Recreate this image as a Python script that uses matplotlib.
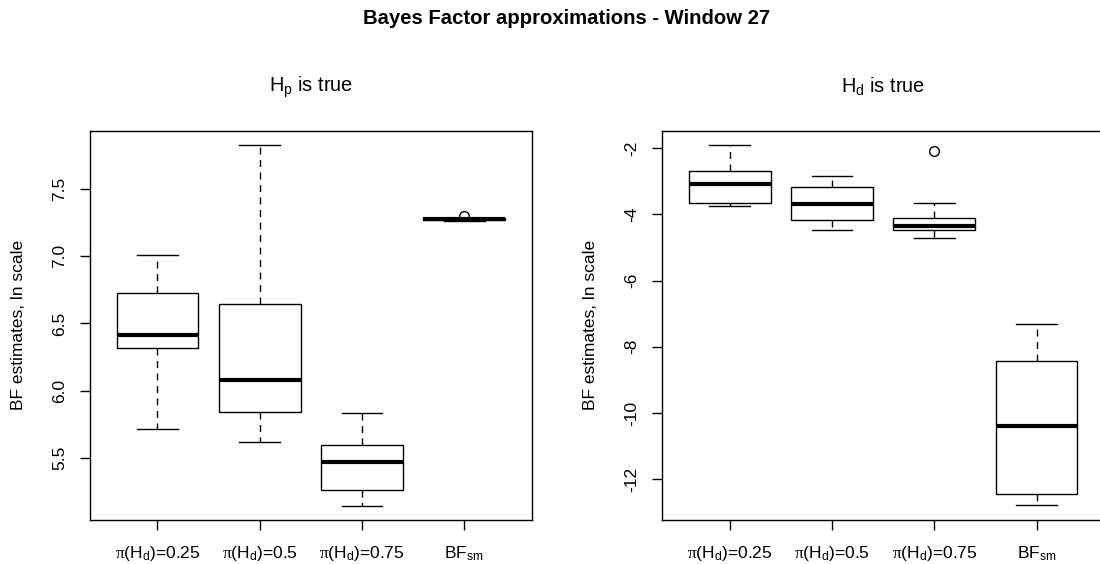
import matplotlib
matplotlib.use("Agg")
import matplotlib.pyplot as plt

plt.rcParams['font.family'] = ['Liberation Sans', 'DejaVu Sans']
plt.rcParams['mathtext.fontset'] = 'custom'
plt.rcParams['mathtext.rm'] = 'Liberation Sans'
plt.rcParams['mathtext.it'] = 'Liberation Serif'
plt.rcParams['mathtext.sf'] = 'Liberation Sans'
plt.rcParams['axes.unicode_minus'] = False

# categories
tick_labels = [r'$\pi$(H$_\mathrm{d}$)=0.25', r'$\pi$(H$_\mathrm{d}$)=0.5',
               r'$\pi$(H$_\mathrm{d}$)=0.75', r'BF$_\mathrm{sm}$']

# H_p is true
hp_whislo = [5.713, 5.621, 5.146, 7.265]
hp_q1 = [6.318, 5.840, 5.262, 7.270]
hp_med = [6.412, 6.082, 5.472, 7.277]
hp_q3 = [6.724, 6.645, 5.597, 7.281]
hp_whishi = [7.012, 7.826, 5.832, 7.282]
hp_fliers = [[], [], [], [7.297]]

# H_d is true
hd_whislo = [-3.731, -4.465, -4.706, -12.790]
hd_q1 = [-3.650, -4.163, -4.465, -12.459]
hd_med = [-3.086, -3.671, -4.344, -10.398]
hd_q3 = [-2.675, -3.158, -4.112, -8.437]
hd_whishi = [-1.905, -2.845, -3.650, -7.309]
hd_fliers = [[], [], [-2.07], []]


def make_stats(whislo, q1, med, q3, whishi, fliers):
  return [dict(whislo=a, q1=b, med=c, q3=d, whishi=e, fliers=f)
          for a, b, c, d, e, f in zip(whislo, q1, med, q3, whishi, fliers)]


def draw_panel(ax, stats, title, ylim, yticks, fmt):
  lw = 1.0
  ax.bxp(stats, positions=[1, 2, 3, 4], widths=0.8, patch_artist=True,
         boxprops=dict(facecolor='white', edgecolor='black', linewidth=lw),
         medianprops=dict(color='black', linewidth=3.0, solid_capstyle='butt'),
         whiskerprops=dict(color='black', linewidth=lw, linestyle=(0, (5, 4))),
         capprops=dict(color='black', linewidth=lw),
         capwidths=0.4,
         flierprops=dict(marker='o', markerfacecolor='none', markeredgecolor='black',
                         markersize=7, markeredgewidth=lw, linestyle='none'))
  ax.set_xlim(0.34, 4.66)
  ax.set_ylim(*ylim)
  ax.set_xticks([1, 2, 3, 4])
  ax.set_xticklabels(tick_labels, fontsize=12.5)
  ax.set_yticks(yticks)
  ax.set_yticklabels([fmt.format(v) for v in yticks], fontsize=12.5, rotation=90, va='center')
  ax.tick_params(length=7.5, width=lw, pad=9, color='black')
  ax.tick_params(axis='x', pad=10)
  for s in ax.spines.values():
    s.set_linewidth(lw)
  ax.set_ylabel('BF estimates, ln scale', fontsize=12.5, labelpad=19)
  ax.set_title(title, fontsize=14.4, pad=28)


fig = plt.figure(figsize=(11, 5.64), dpi=100)
ax1 = fig.add_axes([90 / 1100, 1 - 520 / 564, 441.7 / 1100, 389.3 / 564])
ax2 = fig.add_axes([662.3 / 1100, 1 - 520 / 564, 441.7 / 1100, 389.3 / 564])

draw_panel(ax1, make_stats(hp_whislo, hp_q1, hp_med, hp_q3, hp_whishi, hp_fliers),
           r'H$_\mathrm{p}$ is true', (5.039, 7.933), [5.5, 6.0, 6.5, 7.0, 7.5], '{:.1f}')
draw_panel(ax2, make_stats(hd_whislo, hd_q1, hd_med, hd_q3, hd_whishi, hd_fliers),
           r'H$_\mathrm{d}$ is true', (-13.234, -1.469), [-12, -10, -8, -6, -4, -2], '{:d}')

fig.text(0.515, 1 - 18 / 564, 'Bayes Factor approximations - Window 27',
         ha='center', va='center', fontsize=14.6, fontweight='bold')

fig.savefig('out.png', dpi=100)
